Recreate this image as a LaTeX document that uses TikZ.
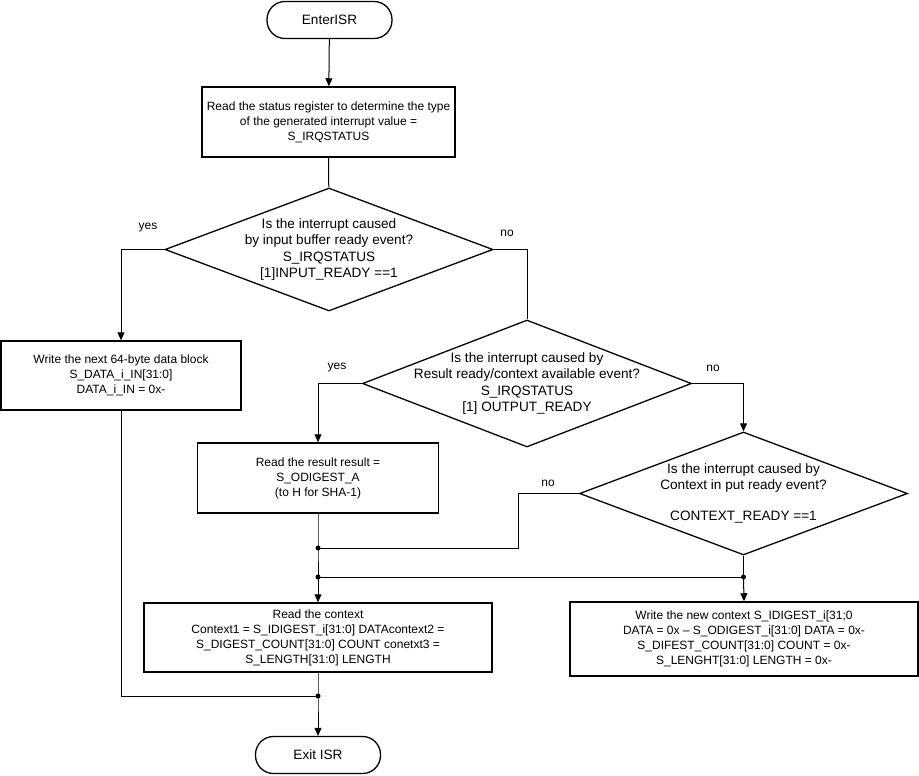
\documentclass[tikz,border=0pt]{standalone}
\usepackage{fontspec}
\setmainfont{Liberation Sans}
\usetikzlibrary{shapes.geometric,arrows.meta}
\begin{document}
\begin{tikzpicture}[x=1pt,y=-1pt,
  every node/.style={font=\fontsize{12}{15}\selectfont},
  box/.style={draw,line width=1.5pt,rectangle,align=center,inner sep=0pt},
  term/.style={draw,line width=1.3pt,rectangle,rounded corners=18pt,minimum width=125pt,minimum height=37pt,font=\fontsize{13.6}{16}\selectfont},
  dia/.style={draw,line width=1.3pt,diamond,inner sep=0pt},
  dtext/.style={align=center,inner sep=0pt,font=\fontsize{13.6}{16.5}\selectfont},
  lbl/.style={font=\fontsize{12}{14}\selectfont},
  conn/.style={line width=1pt},
  arr/.style={conn,-{Triangle[width=7pt,length=8pt]}},
  dot/.style={circle,fill,inner sep=0pt,minimum size=5pt}
]
\useasboundingbox (0,0) rectangle (919,776);

% nodes
\node[term] (enter) at (329.5,20) {EnterISR};
\node[box,minimum width=253pt,minimum height=70pt] (b1) at (328.5,122) {Read the status register to determine the type\\of the generated interrupt value =\\S\_IRQSTATUS};
\node[dia,minimum width=328pt,minimum height=123pt] (d1) at (329,249.5) {};
\node[dtext] (t1) at (d1.center) {Is the interrupt caused\\by input buffer ready event?\\S\_IRQSTATUS\\{}[1]INPUT\_READY ==1};
\node[box,minimum width=240pt,minimum height=69pt] (b2) at (121,375.5) {Write the next 64-byte data block\\S\_DATA\_i\_IN[31:0]\\DATA\_i\_IN = 0x-};
\node[dia,minimum width=329pt,minimum height=127pt] (d2) at (527,383.5) {};
\node[dtext] (t2) at (d2.center) {Is the interrupt caused by\\Result ready/context available event?\\S\_IRQSTATUS\\{}[1] OUTPUT\_READY};
\node[box,minimum width=241pt,minimum height=70pt] (b3) at (318,478) {Read the result result =\\S\_ODIGEST\_A\\(to H for SHA-1)};
\node[dia,minimum width=328pt,minimum height=123pt] (d3) at (743.5,493.5) {};
\node[dtext,font=\fontsize{13.6}{15.5}\selectfont] (t3) at (d3.center) {Is the interrupt caused by\\Context in put ready event?\\[16pt]CONTEXT\_READY ==1};
\node[box,minimum width=348pt,minimum height=69pt] (b4) at (318,637.5) {Read the context\\Context1 = S\_IDIGEST\_i[31:0] DATAcontext2 =\\S\_DIGEST\_COUNT[31:0] COUNT conetxt3 =\\S\_LENGTH[31:0] LENGTH};
\node[box,minimum width=348pt,minimum height=74pt] (b5) at (744,639) {Write the new context S\_IDIGEST\_i[31;0\\DATA = 0x – S\_ODIGEST\_i[31:0] DATA = 0x-\\S\_DIFEST\_COUNT[31:0] COUNT = 0x-\\S\_LENGHT[31:0] LENGTH = 0x-};
\node[term] (exit) at (318,755) {Exit ISR};

% junctions
\coordinate (j1) at (318,548);
\coordinate (j2) at (318,577);
\coordinate (j3) at (743.5,577);
\coordinate (j4) at (318,696);
\coordinate (k3) at (518,548);

% connectors
\draw[arr] (enter) -- (b1);
\draw[conn] (b1) -- (d1);
\draw[arr] (d1.west) -| (b2.north);
\draw[conn] (d1.east) -| (d2.north);
\draw[arr] (d2.west) -| (b3.north);
\draw[arr] (d2.east) -| (d3.north);
\draw[conn] (d3.west) -| (k3) -- (j1);
\draw[conn] (b3.south) -- (j1) -- (j2);
\draw[arr] (j2) -- (b4.north);
\draw[conn] (d3.south) -- (j3) -- (j2);
\draw[arr] (j3) -- (b5.north);
\draw[arr] (b4.south) -- (j4) -- (exit.north);
\draw[conn] (b2.south) |- (j4);

\node[dot] (dj1) at (j1) {};
\node[dot] (dj2) at (j2) {};
\node[dot] (dj3) at (j3) {};
\node[dot] (dj4) at (j4) {};

% labels
\node[lbl] (y1) at (148,228) {yes};
\node[lbl] (n1) at (507,233) {no};
\node[lbl] (y2) at (337,368) {yes};
\node[lbl] (n2) at (713,368) {no};
\node[lbl] (n3) at (548,483) {no};
\end{tikzpicture}
\end{document}
